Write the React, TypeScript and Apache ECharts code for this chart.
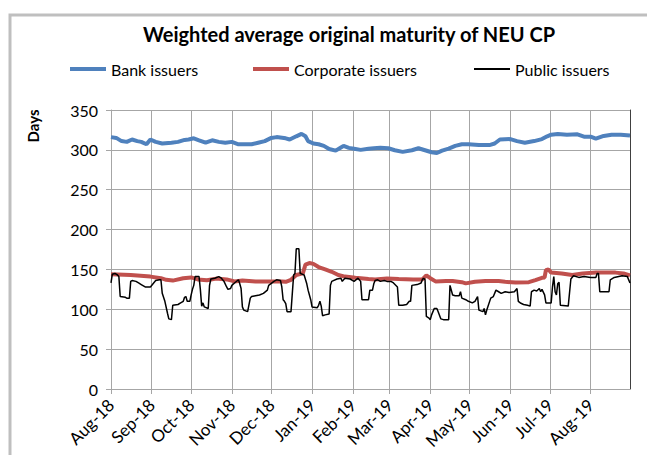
import React, { useEffect, useRef } from "react";
import * as echarts from "echarts";

const titleText = "Weighted average original maturity of NEU CP";
const yAxisTitle = "Days";
const seriesNames = ["Bank issuers", "Corporate issuers", "Public issuers"];
const monthLabels = ["Jan", "Feb", "Mar", "Apr", "May", "Jun", "Jul", "Aug", "Sep", "Oct", "Nov", "Dec"];
const yTicks = { min: 0, max: 350, step: 50 };
const dateRange = { start: "2018-08-01", end: "2019-08-31" };

const bankIssuers: [string, number][] = [
  ["2018-08-01", 316], ["2018-08-05", 315], ["2018-08-09", 311], ["2018-08-13", 310], ["2018-08-17", 313],
  ["2018-08-21", 311], ["2018-08-24", 310], ["2018-08-28", 307], ["2018-08-31", 313], ["2018-09-04", 310],
  ["2018-09-09", 308], ["2018-09-16", 309], ["2018-09-21", 310], ["2018-09-26", 312.5], ["2018-09-29", 313],
  ["2018-10-03", 314.5], ["2018-10-07", 312], ["2018-10-12", 309], ["2018-10-17", 312], ["2018-10-22", 310],
  ["2018-10-27", 309], ["2018-11-01", 310], ["2018-11-06", 307], ["2018-11-09", 307], ["2018-11-16", 307],
  ["2018-11-21", 309], ["2018-11-26", 311], ["2018-12-01", 315], ["2018-12-05", 316], ["2018-12-12", 314.5],
  ["2018-12-15", 313], ["2018-12-20", 317], ["2018-12-24", 320], ["2018-12-27", 317], ["2018-12-29", 311],
  ["2019-01-02", 308], ["2019-01-06", 307], ["2019-01-10", 305], ["2019-01-14", 301], ["2019-01-19", 299],
  ["2019-01-23", 303], ["2019-01-25", 305], ["2019-01-29", 302.5], ["2019-02-02", 301.5], ["2019-02-07", 300],
  ["2019-02-13", 301.5], ["2019-02-17", 302], ["2019-02-22", 302.5], ["2019-02-28", 302], ["2019-03-05", 299.5],
  ["2019-03-11", 297.5], ["2019-03-18", 299.5], ["2019-03-23", 302], ["2019-03-28", 299.5], ["2019-04-02", 297],
  ["2019-04-06", 296], ["2019-04-10", 299], ["2019-04-15", 301.5], ["2019-04-20", 305], ["2019-04-25", 307],
  ["2019-04-30", 307], ["2019-05-08", 306], ["2019-05-16", 306], ["2019-05-20", 308], ["2019-05-24", 313],
  ["2019-06-01", 313.5], ["2019-06-06", 311], ["2019-06-12", 309], ["2019-06-19", 311], ["2019-06-25", 313.5],
  ["2019-06-29", 317], ["2019-07-02", 319], ["2019-07-07", 320], ["2019-07-14", 319], ["2019-07-22", 319.5],
  ["2019-07-27", 316.5], ["2019-08-01", 316.5], ["2019-08-05", 314], ["2019-08-11", 317.5], ["2019-08-17", 319],
  ["2019-08-24", 319], ["2019-08-31", 318],
];

const corporateIssuers: [string, number][] = [
  ["2018-08-01", 144], ["2018-08-16", 143], ["2018-08-31", 141], ["2018-09-08", 139], ["2018-09-12", 137],
  ["2018-09-17", 136], ["2018-09-25", 139], ["2018-10-01", 140], ["2018-10-06", 137.5], ["2018-10-13", 136.5],
  ["2018-10-20", 138.5], ["2018-10-28", 137.5], ["2018-11-03", 135], ["2018-11-09", 136], ["2018-11-19", 135],
  ["2018-11-29", 135], ["2018-12-09", 135], ["2018-12-12", 134.5], ["2018-12-16", 137], ["2018-12-20", 143],
  ["2018-12-25", 145], ["2018-12-27", 156], ["2018-12-30", 158], ["2019-01-02", 157], ["2019-01-06", 153],
  ["2019-01-11", 150], ["2019-01-16", 147], ["2019-01-21", 143], ["2019-01-26", 141], ["2019-02-03", 139.5],
  ["2019-02-13", 138], ["2019-02-18", 137.5], ["2019-02-27", 138.5], ["2019-03-08", 138], ["2019-03-19", 137.5],
  ["2019-03-26", 137.5], ["2019-03-29", 142.5], ["2019-04-01", 139], ["2019-04-05", 135], ["2019-04-13", 135.5],
  ["2019-04-18", 135.5], ["2019-04-25", 134], ["2019-04-28", 132.5], ["2019-05-05", 134.5], ["2019-05-13", 135.5],
  ["2019-05-23", 135.5], ["2019-05-28", 134.5], ["2019-06-05", 133.5], ["2019-06-15", 134], ["2019-06-20", 136.5],
  ["2019-06-25", 139.5], ["2019-06-27", 140], ["2019-06-28", 149], ["2019-06-30", 150], ["2019-07-02", 146],
  ["2019-07-10", 145], ["2019-07-18", 143], ["2019-07-26", 145], ["2019-08-05", 146], ["2019-08-20", 146],
  ["2019-08-26", 145], ["2019-08-31", 142.5],
];

const publicIssuers: [string, number][] = [
  ["2018-08-01", 133], ["2018-08-02", 144], ["2018-08-04", 145], ["2018-08-06", 143], ["2018-08-07", 141],
  ["2018-08-08", 116], ["2018-08-12", 115], ["2018-08-13", 114], ["2018-08-15", 114], ["2018-08-16", 135],
  ["2018-08-17", 136], ["2018-08-20", 135], ["2018-08-22", 133], ["2018-08-24", 131], ["2018-08-27", 128],
  ["2018-08-31", 128], ["2018-09-02", 132], ["2018-09-04", 136], ["2018-09-07", 137], ["2018-09-08", 137],
  ["2018-09-09", 120], ["2018-09-11", 110], ["2018-09-13", 95], ["2018-09-14", 88], ["2018-09-16", 87],
  ["2018-09-17", 105], ["2018-09-21", 106], ["2018-09-23", 108], ["2018-09-25", 110], ["2018-09-26", 115],
  ["2018-09-27", 116], ["2018-09-28", 110], ["2018-09-30", 110], ["2018-10-01", 118], ["2018-10-02", 125],
  ["2018-10-03", 130], ["2018-10-04", 141], ["2018-10-07", 141], ["2018-10-08", 125], ["2018-10-09", 104],
  ["2018-10-10", 108], ["2018-10-11", 103], ["2018-10-14", 101], ["2018-10-15", 130], ["2018-10-16", 138],
  ["2018-10-19", 139], ["2018-10-22", 141], ["2018-10-24", 139], ["2018-10-26", 135], ["2018-10-28", 128],
  ["2018-10-29", 125], ["2018-10-31", 126], ["2018-11-01", 130], ["2018-11-03", 133], ["2018-11-06", 137],
  ["2018-11-07", 132], ["2018-11-08", 126], ["2018-11-09", 103], ["2018-11-10", 99], ["2018-11-13", 97],
  ["2018-11-15", 114], ["2018-11-16", 116], ["2018-11-19", 117], ["2018-11-22", 118], ["2018-11-25", 120],
  ["2018-11-28", 124], ["2018-11-29", 130], ["2018-12-03", 135], ["2018-12-05", 137], ["2018-12-08", 136],
  ["2018-12-09", 128], ["2018-12-10", 112], ["2018-12-11", 110], ["2018-12-12", 107], ["2018-12-13", 97],
  ["2018-12-16", 97], ["2018-12-18", 143], ["2018-12-19", 145], ["2018-12-20", 176], ["2018-12-22", 176],
  ["2018-12-23", 145], ["2018-12-26", 143], ["2018-12-28", 132], ["2018-12-29", 124], ["2018-12-31", 112],
  ["2019-01-01", 103], ["2019-01-05", 102], ["2019-01-06", 105], ["2019-01-07", 110], ["2019-01-08", 104],
  ["2019-01-09", 92], ["2019-01-11", 93], ["2019-01-14", 94], ["2019-01-15", 130], ["2019-01-16", 135],
  ["2019-01-20", 138], ["2019-01-23", 139], ["2019-01-24", 135], ["2019-01-26", 139], ["2019-01-30", 138],
  ["2019-02-02", 135], ["2019-02-05", 139], ["2019-02-07", 135], ["2019-02-08", 112], ["2019-02-13", 112],
  ["2019-02-14", 124], ["2019-02-16", 124], ["2019-02-17", 132], ["2019-02-18", 136], ["2019-02-20", 137],
  ["2019-02-22", 135], ["2019-02-25", 136], ["2019-02-27", 135], ["2019-03-02", 135], ["2019-03-04", 133],
  ["2019-03-07", 128], ["2019-03-08", 105], ["2019-03-11", 105], ["2019-03-14", 106], ["2019-03-16", 110],
  ["2019-03-17", 110], ["2019-03-18", 130], ["2019-03-22", 131], ["2019-03-25", 133], ["2019-03-26", 137.5],
  ["2019-03-27", 139], ["2019-03-28", 137], ["2019-03-29", 91], ["2019-03-31", 89], ["2019-04-01", 87],
  ["2019-04-02", 93], ["2019-04-04", 101], ["2019-04-06", 101], ["2019-04-07", 97], ["2019-04-09", 88],
  ["2019-04-11", 87], ["2019-04-15", 87], ["2019-04-16", 130], ["2019-04-18", 118], ["2019-04-20", 117],
  ["2019-04-23", 117], ["2019-04-24", 122], ["2019-04-25", 114], ["2019-04-28", 112], ["2019-04-30", 110],
  ["2019-05-03", 108], ["2019-05-05", 110], ["2019-05-07", 116], ["2019-05-08", 99], ["2019-05-11", 97],
  ["2019-05-12", 101], ["2019-05-13", 93], ["2019-05-14", 99], ["2019-05-17", 114], ["2019-05-19", 116],
  ["2019-05-21", 124], ["2019-05-23", 122], ["2019-05-25", 120], ["2019-05-28", 122], ["2019-05-31", 121],
  ["2019-06-04", 122], ["2019-06-06", 126], ["2019-06-07", 110], ["2019-06-09", 107.5], ["2019-06-11", 106],
  ["2019-06-14", 105], ["2019-06-16", 104], ["2019-06-17", 122], ["2019-06-19", 124], ["2019-06-21", 123],
  ["2019-06-23", 126], ["2019-06-24", 122], ["2019-06-25", 125], ["2019-06-27", 118], ["2019-06-28", 108],
  ["2019-07-02", 108], ["2019-07-03", 128], ["2019-07-04", 141], ["2019-07-05", 122], ["2019-07-06", 118],
  ["2019-07-07", 132], ["2019-07-08", 134], ["2019-07-09", 105], ["2019-07-15", 104], ["2019-07-17", 138],
  ["2019-07-19", 142], ["2019-07-23", 140], ["2019-07-27", 141], ["2019-08-01", 140], ["2019-08-05", 140],
  ["2019-08-06", 145], ["2019-08-07", 145], ["2019-08-08", 122], ["2019-08-15", 122], ["2019-08-16", 137],
  ["2019-08-19", 140], ["2019-08-25", 142], ["2019-08-29", 141], ["2019-08-31", 133],
];

const colors = { bank: "#4F81BD", corporate: "#C0504D", public: "#000000", grid: "#A6A6A6" };
const FONT = "Lato";

const legendBase = {
  padding: 0,
  itemWidth: 36,
  icon: "rect",
  textStyle: { fontFamily: FONT, fontSize: 16, color: "#000" },
  selectedMode: false,
};

export default function App() {
  const ref = useRef<HTMLDivElement>(null);

  useEffect(() => {
    if (!ref.current) return;
    const chart = echarts.init(ref.current, null, { renderer: "svg" });
    chart.setOption({
      animation: false,
      backgroundColor: "#ffffff",
      textStyle: { fontFamily: FONT },
      graphic: [
        {
          type: "rect",
          shape: { x: 10, y: 15, width: 700, height: 500 },
          style: { fill: "none", stroke: "#BFBFBF", lineWidth: 3 },
          silent: true,
        },
        {
          type: "text",
          x: 349,
          y: 34,
          style: {
            text: titleText,
            fill: "#000",
            font: `bold 20px ${FONT}`,
            textAlign: "center",
            textVerticalAlign: "middle",
          },
        },
        {
          type: "text",
          x: 33,
          y: 126,
          rotation: Math.PI / 2,
          style: {
            text: yAxisTitle,
            fill: "#000",
            font: `bold 15px ${FONT}`,
            textAlign: "center",
            textVerticalAlign: "middle",
          },
        },
      ],
      legend: [
        { ...legendBase, left: 70, top: 61, itemHeight: 4, data: [seriesNames[0]] },
        { ...legendBase, left: 253, top: 61, itemHeight: 4, data: [seriesNames[1]] },
        { ...legendBase, left: 474, top: 61, itemHeight: 2, data: [seriesNames[2]] },
      ],
      grid: { left: 111, top: 110, right: 17, bottom: 66, containLabel: false },
      xAxis: {
        type: "time",
        min: dateRange.start,
        max: dateRange.end,
        splitNumber: 13,
        axisLine: { show: true, lineStyle: { color: colors.grid } },
        axisTick: { show: true, length: 5, lineStyle: { color: colors.grid } },
        splitLine: { show: true, lineStyle: { color: colors.grid, width: 1 } },
        axisLabel: {
          rotate: 45,
          margin: 13,
          fontFamily: FONT,
          fontSize: 17,
          color: "#000",
          hideOverlap: false,
          showMaxLabel: false,
          formatter: (v: number) => {
            const d = new Date(v);
            return `${monthLabels[d.getMonth()]}-${String(d.getFullYear()).slice(2)}`;
          },
        },
      },
      yAxis: [
        {
          type: "value",
          min: yTicks.min,
          max: yTicks.max,
          interval: yTicks.step,
          axisLine: { show: true, lineStyle: { color: colors.grid } },
          axisTick: { show: true, length: 5, lineStyle: { color: colors.grid } },
          splitLine: { show: true, lineStyle: { color: colors.grid, width: 1 } },
          axisLabel: { margin: 13, fontFamily: FONT, fontSize: 16, color: "#000" },
        },
        {
          type: "value",
          position: "right",
          min: yTicks.min,
          max: yTicks.max,
          interval: yTicks.step,
          axisLine: { show: true, lineStyle: { color: "#404040" } },
          axisTick: { show: false },
          axisLabel: { show: false },
          splitLine: { show: false },
        },
      ],
      series: [
        {
          name: seriesNames[0],
          type: "line",
          data: bankIssuers,
          symbol: "none",
          lineStyle: { color: colors.bank, width: 4 },
          itemStyle: { color: colors.bank },
        },
        {
          name: seriesNames[1],
          type: "line",
          data: corporateIssuers,
          symbol: "none",
          lineStyle: { color: colors.corporate, width: 4 },
          itemStyle: { color: colors.corporate },
        },
        {
          name: seriesNames[2],
          type: "line",
          data: publicIssuers,
          symbol: "none",
          lineStyle: { color: colors.public, width: 1.5 },
          itemStyle: { color: colors.public },
        },
      ],
    });
    return () => chart.dispose();
  }, []);

  return (
    <div
      ref={ref}
      style={{ position: "absolute", left: 0, top: 0, width: 647, height: 455, background: "#fff" }}
    />
  );
}
